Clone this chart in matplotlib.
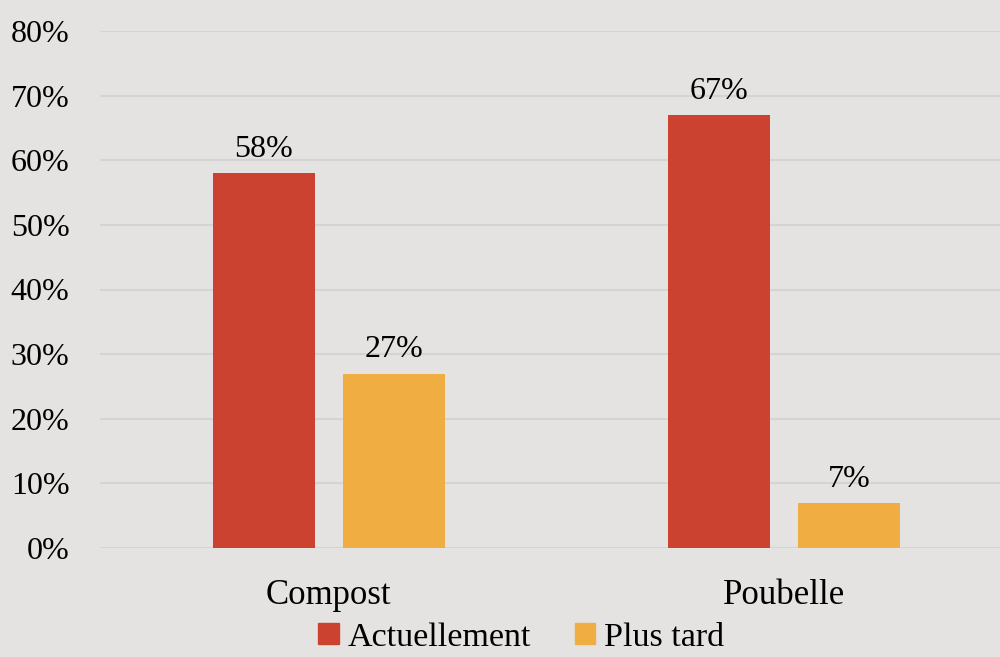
import numpy as np
import matplotlib
matplotlib.use('Agg')
import matplotlib.pyplot as plt
from matplotlib.patches import Patch

# Data
categories = ['Compost', 'Poubelle']
actuellement = [58, 67]
plus_tard = [27, 7]
series_names = ['Actuellement', 'Plus tard']
yticks = [0, 10, 20, 30, 40, 50, 60, 70, 80]

red = '#CB4330'
yellow = '#F0AD41'
bg = '#E4E3E2'

plt.rcParams['font.family'] = ['Liberation Serif', 'DejaVu Serif']

fig = plt.figure(figsize=(10, 6.57), dpi=100, facecolor=bg)
ax = fig.add_axes([0.10, 1 - 548 / 657, 0.90, (548 - 31) / 657])
ax.set_facecolor(bg)

x = np.arange(len(categories))
w = 0.224
off = 0.143
b1 = ax.bar(x - off, actuellement, w, color=red, zorder=3)
b2 = ax.bar(x + off, plus_tard, w, color=yellow, zorder=3)

for bars, vals in [(b1, actuellement), (b2, plus_tard)]:
    for r, v in zip(bars, vals):
        ax.text(r.get_x() + r.get_width() / 2, v + 1.4, f'{v}%',
                ha='center', va='bottom', fontsize=23, color='black')

ax.set_ylim(0, 80)
ax.set_xlim(-0.503, 1.475)
ax.set_yticks(yticks)
ax.set_yticklabels([f'{t}%' for t in yticks], fontsize=23)
ax.set_xticks(x)
ax.set_xticklabels(categories, fontsize=25)
ax.tick_params(length=0)
ax.tick_params(axis='x', pad=22)
ax.tick_params(axis='y', pad=22)
ax.yaxis.grid(True, color='#D5D4D3', linewidth=1.5, zorder=0)
for s in ax.spines.values():
    s.set_visible(False)

handles = [Patch(color=red), Patch(color=yellow)]
fig.legend(handles, series_names, loc='center', bbox_to_anchor=(0.521, 0.03),
           ncol=2, frameon=False, fontsize=24.5, handlelength=0.6, handleheight=0.6,
           handletextpad=0.25, columnspacing=1.3)

fig.savefig('out.png', dpi=100, facecolor=bg)
